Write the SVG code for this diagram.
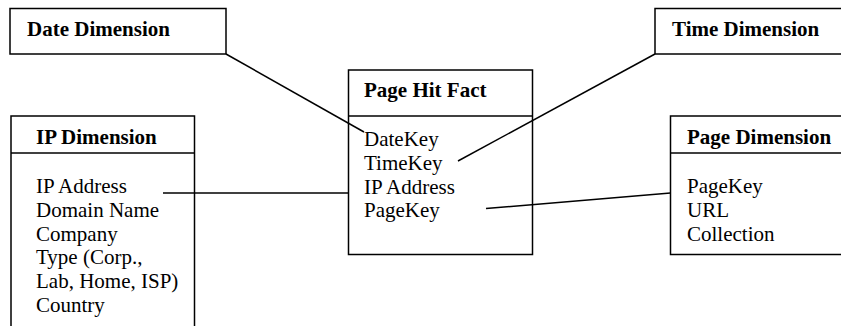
<svg xmlns="http://www.w3.org/2000/svg" width="841" height="326" viewBox="0 0 841 326">
<style>
.box{fill:#fff;stroke:#000;stroke-width:1.5}
.div{stroke:#000;stroke-width:1.5}
.h{font-family:"Liberation Serif","Times New Roman",serif;font-size:21px;font-weight:bold;fill:#000}
.t{font-family:"Liberation Serif","Times New Roman",serif;font-size:21px;fill:#000}
.c{stroke:#000;stroke-width:1.5;fill:none}
</style>
<rect width="841" height="326" fill="#fff"/>
<g id="date-dimension">
<rect class="box" x="10" y="8.5" width="216" height="45.5"/>
<text class="h" x="27" y="36">Date Dimension</text>
</g>
<g id="time-dimension">
<rect class="box" x="655" y="8.5" width="200" height="45.5"/>
<text class="h" x="672" y="36">Time Dimension</text>
</g>
<g id="page-hit-fact">
<rect class="box" x="348.5" y="70" width="184" height="184.5"/>
<line class="div" x1="348.5" y1="116" x2="532.5" y2="116"/>
<text class="h" x="364" y="97">Page Hit Fact</text>
<text class="t" x="364" y="146">DateKey</text>
<text class="t" x="364" y="170">TimeKey</text>
<text class="t" x="364" y="193.5">IP Address</text>
<text class="t" x="364" y="217">PageKey</text>
</g>
<g id="ip-dimension">
<rect class="box" x="11" y="116" width="183.5" height="230"/>
<line class="div" x1="11" y1="153" x2="194.5" y2="153"/>
<text class="h" x="36" y="144">IP Dimension</text>
<text class="t" x="36" y="193">IP Address</text>
<text class="t" x="36" y="217">Domain Name</text>
<text class="t" x="36" y="240.5">Company</text>
<text class="t" x="36" y="264">Type (Corp.,</text>
<text class="t" x="36" y="288">Lab, Home, ISP)</text>
<text class="t" x="36" y="311.5">Country</text>
</g>
<g id="page-dimension">
<rect class="box" x="670.5" y="116" width="200" height="138.5"/>
<line class="div" x1="670.5" y1="153" x2="870" y2="153"/>
<text class="h" x="687" y="144">Page Dimension</text>
<text class="t" x="687" y="193">PageKey</text>
<text class="t" x="687" y="217">URL</text>
<text class="t" x="687" y="241">Collection</text>
</g>
<g id="connectors">
<line class="c" x1="226" y1="54" x2="364" y2="132"/>
<line class="c" x1="655" y1="54" x2="458" y2="161"/>
<line class="c" x1="163" y1="193" x2="348.5" y2="193"/>
<line class="c" x1="486" y1="208.5" x2="670.5" y2="193"/>
</g>
</svg>
